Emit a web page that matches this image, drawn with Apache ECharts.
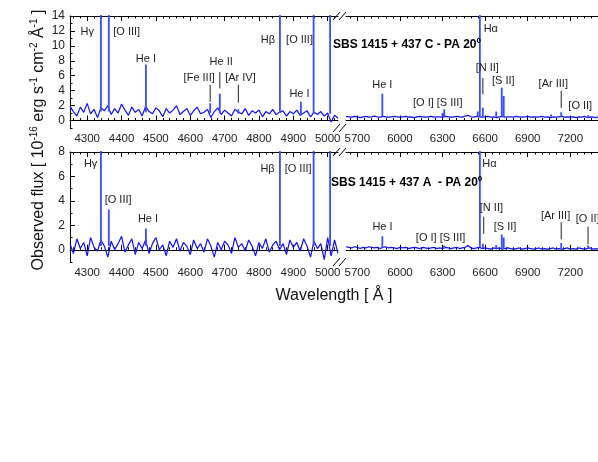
<!DOCTYPE html>
<html><head><meta charset="utf-8">
<script src="https://cdn.jsdelivr.net/npm/echarts@6/dist/echarts.min.js"></script>
<style>html,body{margin:0;padding:0;background:#fff}#c{width:598px;height:462px}</style>
</head><body><div id="c"></div>
<script>
// ---- data ----
const leftStart = 4250, leftStep = 10;
const rightStart = 5620, rightStep = 20;
const contTopLeft = [1.9,1.2,0.6,1.8,1.1,2.3,0.9,1.5,0.4,1.7,1.3,2.0,0.8,1.6,1.0,2.2,1.4,0.7,1.8,1.1,
1.5,0.6,1.9,1.2,0.9,1.7,1.3,0.5,1.6,1.0,1.4,2.0,0.8,1.2,1.6,0.7,1.3,1.8,0.9,1.1,
1.5,0.4,1.2,1.7,0.8,1.4,1.0,0.6,1.5,1.1,0.9,1.6,0.7,1.3,1.0,1.4,0.5,1.2,0.9,1.5,
0.8,1.1,1.3,0.6,1.2,0.9,1.4,0.7,1.0,1.3,0.5,1.1,0.8,1.2,0.6,1.0,-0.2,0.7,0.3];
const contBotLeft = [0.5,-0.3,0.9,0.1,0.6,-0.5,1.0,0.2,-0.1,0.8,0.3,-0.6,0.7,0.0,0.5,1.1,-0.2,0.4,0.9,-0.4,
0.6,0.1,0.8,-0.3,0.5,1.0,0.0,0.4,-0.5,0.7,0.2,0.9,-0.1,0.6,0.3,-0.4,0.8,0.1,0.5,-0.2,
0.9,0.3,-0.6,0.6,0.0,0.7,0.4,-0.3,1.0,0.2,0.5,-0.1,0.8,0.3,-0.5,0.6,0.1,0.9,-0.2,0.4,
0.7,0.0,0.5,-0.4,0.8,0.2,0.6,-0.1,0.9,0.3,-0.6,0.7,0.1,0.5,-0.8,1.0,-0.5,0.8,-0.3];
const contTopRight = [0.55,0.5,0.45,0.55,0.5,0.4,0.5,0.55,0.45,0.5,0.6,0.5,0.45,0.55,0.5,0.45,0.5,0.55,0.5,0.45,
0.5,0.55,0.45,0.5,0.4,0.5,0.55,0.5,0.45,0.5,0.55,0.45,0.5,0.5,0.45,0.55,0.5,0.45,0.5,0.55,
0.5,0.45,0.6,0.7,0.5,0.45,0.55,0.5,0.45,0.5,0.55,0.45,0.5,0.4,0.5,0.55,0.45,0.5,0.5,0.45,
0.55,0.5,0.45,0.5,0.55,0.45,0.5,0.45,0.5,0.55,0.45,0.5,0.4,0.5,0.45,0.5,0.55,0.45,0.5,0.45,
0.5,0.4,0.5,0.45,0.55,0.4,0.5,0.45,0.4,0.5,0.45,0.4,0.5,0.45,0.4,0.45,0.4];
const contBotRight = [0.25,0.2,0.15,0.25,0.2,0.1,0.2,0.15,0.25,0.2,0.15,0.2,0.1,0.2,0.25,0.15,0.2,0.15,0.1,0.2,
0.15,0.2,0.1,0.15,0.2,0.15,0.1,0.2,0.15,0.1,0.15,0.2,0.1,0.15,0.1,0.2,0.15,0.1,0.15,0.2,
0.1,0.15,0.2,0.35,0.15,0.1,0.15,0.2,0.1,0.15,0.1,0.05,0.15,0.1,0.15,0.05,0.1,0.15,0.1,0.05,
0.1,0.15,0.05,0.1,0.15,0.1,0.05,0.1,0.15,0.05,0.1,0.05,0.1,0.15,0.05,0.1,0.05,0.1,0.15,0.05,
0.1,0.05,0.15,0.1,0.05,0.1,0.15,0.05,0.1,0.05,0.1,0.15,0.05,0.1,0.05,0.1,0.05];
// emission lines: [wavelength, base, peak]
const linesTopLeft = [[4340,1.2,30],[4363,1.2,30],[4471,1.1,7.5],[4658,1.0,2.3],[4686,1.0,3.6],[4740,0.9,1.5],[4861,1.0,30],[4922,0.9,2.5],[4959,0.9,30],[5007,0.9,30]];
const linesTopRight = [[5876,0.5,3.6],[6300,0.5,1.0],[6312,0.5,1.5],[6548,0.5,1.2],[6563,0.5,30],[6584,0.5,1.7],[6678,0.5,1.2],[6717,0.5,4.4],[6731,0.5,3.3],[7065,0.5,0.8],[7136,0.5,1.1],[7325,0.45,0.7]];
const linesBotLeft = [[4340,0.3,30],[4363,0.3,3.3],[4471,0.3,1.75],[4861,0.3,30],[4959,0.3,30],[5007,0.3,30]];
const linesBotRight = [[5876,0.15,1.1],[6312,0.1,0.35],[6563,0.2,30],[6584,0.15,0.5],[6678,0.1,0.4],[6717,0.1,1.25],[6731,0.1,1.0],[7136,0.1,0.55],[7325,0.1,0.35]];
// annotations: [text, wavelength, y]
const annTopLeft = [["Hγ",4300,11.9],["[O III]",4415,11.9],["He I",4471,8.3],["[Fe III]",4626,5.7],["He II",4690,7.9],["[Ar IV]",4746,5.7],["Hβ",4826,10.8],["[O III]",4918,10.8],["He I",4918,3.6]];
const annTopRight = [["Hα",6640,12.3],["He I",5876,4.7],["[O I]",6165,2.3],["[S III]",6350,2.3],["[N II]",6615,7.1],["[S II]",6728,5.3],["[Ar III]",7080,4.9],["[O II]",7270,2.0]];
const annBotLeft = [["Hγ",4310,7.0],["[O III]",4390,4.05],["He I",4477,2.5],["Hβ",4825,6.6],["[O III]",4914,6.6]];
const annBotRight = [["Hα",6630,7.05],["He I",5877,1.9],["[O I]",6185,0.95],["[S III]",6370,0.95],["[N II]",6644,3.4],["[S II]",6740,1.85],["[Ar III]",7096,2.8],["[O II]",7322,2.5]];
// marker lines: [wavelength, y0, y1]
const markTopLeft = [[4658,4.8,2.5],[4686,6.5,4.3],[4740,4.8,2.4]];
const markTopRight = [[6584,5.7,3.5],[7136,4.0,1.7]];
const markBotRight = [[6590,2.7,1.3],[7136,2.25,0.85],[7325,1.9,0.45]];
const titles = ["SBS 1415 + 437 C - PA 20º","SBS 1415 + 437 A  - PA 20º"];
const leftMajor = [4300,4400,4500,4600,4700,4800,4900,5000];
const rightMajor = [5700,6000,6300,6600,6900,7200,7500];
const yTopMajor = [0,2,4,6,8,10,12,14];
const yBotMajor = [0,2,4,6,8];

// ---- build ----
function rng(a,b,s){const r=[];for(let v=a;v<=b+1e-9;v+=s)r.push(v);return r;}
const leftMinor = rng(4260,5020,20), rightMinor = rng(5650,7550,50);
const yTopMinor = rng(-1,13,1), yBotMinor = rng(-1,8,1);
function cont(arr,start,step){return arr.map((v,i)=>[start+i*step,v]);}
function lineSegs(ls){const d=[];ls.forEach(l=>{d.push([l[0],l[1]]);d.push([l[0],l[2]]);d.push('-');});return d;}

const grids = [
 {left:70,top:16,width:268,height:112, xr:[4250,5030], yr:[-1,14], xm:leftMajor, xn:leftMinor, ym:yTopMajor, yn:yTopMinor, side:'left', c:contTopLeft, cs:leftStart, st:leftStep, ln:linesTopLeft},
 {left:346,top:16,width:274,height:112, xr:[5620,7550], yr:[-1,14], xm:rightMajor, xn:rightMinor, ym:yTopMajor, yn:yTopMinor, side:'right', c:contTopRight, cs:rightStart, st:rightStep, ln:linesTopRight},
 {left:70,top:152,width:268,height:110, xr:[4250,5030], yr:[-1,8], xm:leftMajor, xn:leftMinor, ym:yBotMajor, yn:yBotMinor, side:'left', c:contBotLeft, cs:leftStart, st:leftStep, ln:linesBotLeft},
 {left:346,top:152,width:274,height:110, xr:[5620,7550], yr:[-1,8], xm:rightMajor, xn:rightMinor, ym:yBotMajor, yn:yBotMinor, side:'right', c:contBotRight, cs:rightStart, st:rightStep, ln:linesBotRight}
];
const font = {fontFamily:'Liberation Sans, Arial', fontSize:11.5, color:'#222'};
const xAxis=[], yAxis=[], series=[];
grids.forEach((g,k)=>{
  const base={type:'value',gridIndex:k,min:g.xr[0],max:g.xr[1],splitLine:{show:false}};
  const xi=xAxis.length;
  xAxis.push(Object.assign({},base,{position:'bottom',axisLine:{lineStyle:{color:'#000',width:1}},
    axisTick:{inside:true,length:5,customValues:g.xm,lineStyle:{color:'#000'}},
    axisLabel:Object.assign({customValues:g.xm,margin:5,formatter:v=>String(v)},font)}));
  xAxis.push(Object.assign({},base,{position:'bottom',axisLine:{show:false},axisTick:{inside:true,length:2.5,customValues:g.xn,lineStyle:{color:'#000'}},axisLabel:{show:false}}));
  xAxis.push(Object.assign({},base,{position:'top',axisLine:{lineStyle:{color:'#000'}},axisTick:{inside:true,length:5,customValues:g.xm,lineStyle:{color:'#000'}},axisLabel:{show:false}}));
  xAxis.push(Object.assign({},base,{position:'top',axisLine:{show:false},axisTick:{inside:true,length:2.5,customValues:g.xn,lineStyle:{color:'#000'}},axisLabel:{show:false}}));
  const ybase={type:'value',gridIndex:k,min:g.yr[0],max:g.yr[1],splitLine:{show:false},position:g.side};
  const yi=yAxis.length;
  yAxis.push(Object.assign({},ybase,{axisLine:{show:true,lineStyle:{color:'#000'}},axisTick:{inside:true,length:5,customValues:g.ym,lineStyle:{color:'#000'}},
    axisLabel:Object.assign({show:g.side==='left',customValues:g.ym,margin:5},font,{fontSize:12})}));
  yAxis.push(Object.assign({},ybase,{axisLine:{show:false},axisTick:{inside:true,length:2.5,customValues:g.yn,lineStyle:{color:'#000'}},axisLabel:{show:false}}));
  series.push({type:'line',xAxisIndex:xi,yAxisIndex:yi,data:cont(g.c,g.cs,g.st),symbol:'none',lineStyle:{color:'#1010f0',width:1.2},clip:true,animation:false});
  series.push({type:'line',xAxisIndex:xi,yAxisIndex:yi,data:lineSegs(g.ln),symbol:'none',connectNulls:false,lineStyle:{color:'#3a4cff',width:1.8},clip:true,animation:false});
});
const chart = echarts.init(document.getElementById('c'));
chart.setOption({animation:false,grid:grids.map(g=>({left:g.left,top:g.top,width:g.width,height:g.height,show:false,containLabel:false,outerBoundsMode:'none'})),xAxis,yAxis,series});

const anns=[annTopLeft,annTopRight,annBotLeft,annBotRight];
const marks=[markTopLeft,markTopRight,[],markBotRight];
const graphic=[];
anns.forEach((a,k)=>a.forEach(t=>{const p=chart.convertToPixel({gridIndex:k},[t[1],t[2]]);
  graphic.push({type:'text',x:p[0],y:p[1],style:{text:t[0],fill:'#222',font:'11px Liberation Sans, Arial',align:'center',verticalAlign:'middle'},z:10});}));
marks.forEach((a,k)=>a.forEach(m=>{const p0=chart.convertToPixel({gridIndex:k},[m[0],m[1]]);const p1=chart.convertToPixel({gridIndex:k},[m[0],m[2]]);
  graphic.push({type:'line',shape:{x1:p0[0],y1:p0[1],x2:p1[0],y2:p1[1]},style:{stroke:'#222',lineWidth:1},z:10});}));
graphic.push({type:'text',x:333,y:45,style:{text:titles[0],fill:'#000',font:'bold 12px Liberation Sans, Arial',verticalAlign:'middle'},z:10});
graphic.push({type:'text',x:331,y:183,style:{text:titles[1],fill:'#000',font:'bold 12px Liberation Sans, Arial',verticalAlign:'middle'},z:10});
// break marks
[[16],[128],[152],[262]].forEach(r=>{const y=r[0];[336,342].forEach(x=>graphic.push({type:'line',shape:{x1:x-3,y1:y+4,x2:x+4,y2:y-4},style:{stroke:'#000',lineWidth:1},z:10}));});
graphic.push({type:'text',x:334,y:296,style:{text:'Wavelength [ Å ]',fill:'#111',font:'16px Liberation Sans, Arial',align:'center',verticalAlign:'middle'}});
graphic.push({type:'text',x:38,y:140,rotation:Math.PI/2,style:{text:'{a|Observed flux [ 10}{s|-16}{a| erg s}{s|-1}{a| cm}{s|-2}{a| Å}{s|-1}{a| ]}',align:'center',verticalAlign:'middle',
  rich:{a:{fontSize:16,fontFamily:'Liberation Sans, Arial',fill:'#111',verticalAlign:'bottom'},s:{fontSize:10,fontFamily:'Liberation Sans, Arial',fill:'#111',verticalAlign:'top',padding:[0,0,8,0]}}}});
chart.setOption({graphic});
</script></body></html>
